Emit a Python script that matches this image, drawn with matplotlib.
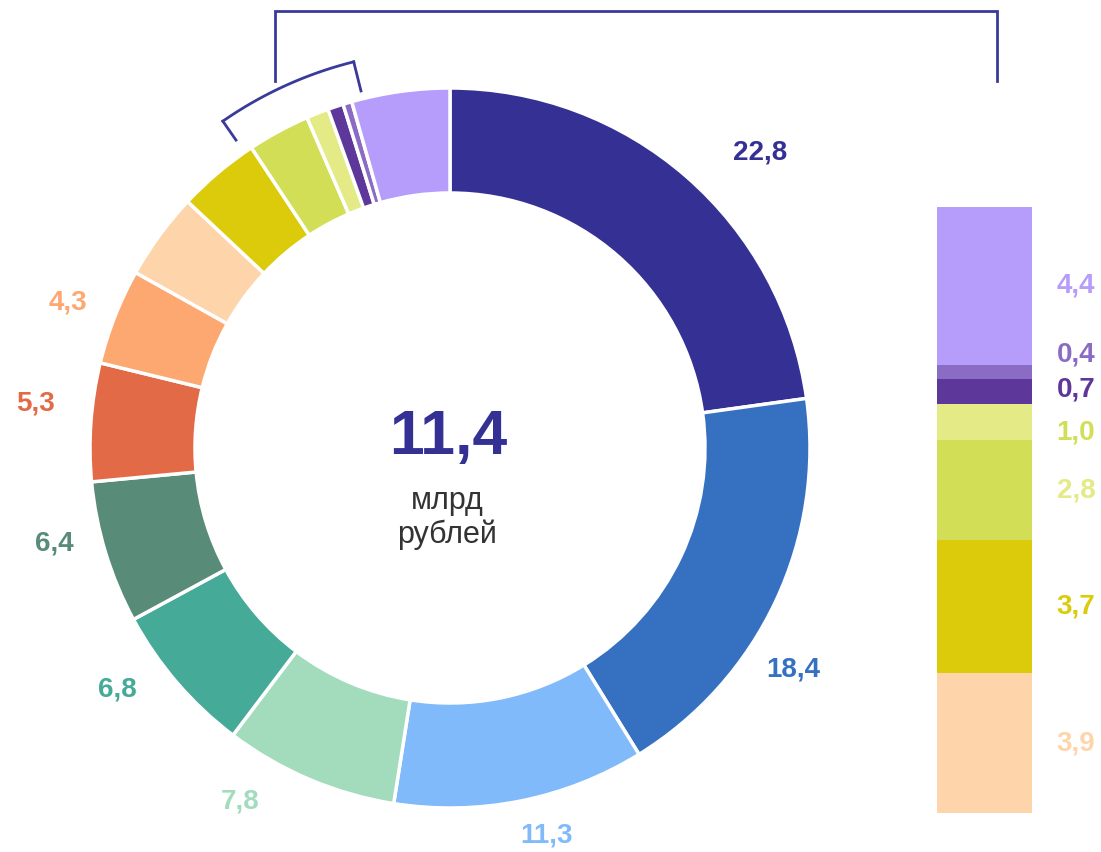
import matplotlib
matplotlib.use("Agg")
import matplotlib.pyplot as plt
import numpy as np

plt.rcParams['font.family'] = ['Liberation Sans', 'DejaVu Sans']

# ---- data ----
donut_values = [22.8, 18.4, 11.3, 7.8, 6.8, 6.4, 5.3, 4.3, 3.9, 3.7, 2.8, 1.0, 0.7, 0.4, 4.4]
donut_labels = ["22,8", "18,4", "11,3", "7,8", "6,8", "6,4", "5,3", "4,3", "", "", "", "", "", "", ""]
donut_colors = ["#353194", "#3671c1", "#80bafa", "#a2dcbd", "#46aa98", "#588c79", "#e36a47",
                "#fea871", "#fed5ab", "#dccb0a", "#d1de56", "#e3ea86", "#5e379b", "#8a6cc4", "#b69dfc"]

bar_values = [3.9, 3.7, 2.8, 1.0, 0.7, 0.4, 4.4]
bar_labels = ["3,9", "3,7", "2,8", "1,0", "0,7", "0,4", "4,4"]
bar_colors = ["#fed5ab", "#dccb0a", "#d1de56", "#e3ea86", "#5e379b", "#8a6cc4", "#b69dfc"]
bar_label_colors = ["#fed5ab", "#dccb0a", "#e3ea86", "#d1de56", "#5e379b", "#8a6cc4", "#b69dfc"]

center_value = "11,4"
center_unit = "млрд\nрублей"

# ---- layout / style ----
W, H = 1101, 852
CX, CY = 450, 852 - 448
R, RING = 360, 105
label_angles = [46.3, 122.9, 166.0, 210.7, 234.0, 256.5, 276.2, 290.9]   # deg clockwise from top
label_radii = [1.19, 1.134, 1.108, 1.143, 1.143, 1.131, 1.157, 1.136]
bar_label_shift = [0, 0, 0, -0.28, 0.07, 0.5, 0]
line_color = "#3a3a9a"
LABEL_FS = 20

fig = plt.figure(figsize=(W / 100, H / 100), dpi=100)
ax = fig.add_axes([0, 0, 1, 1])
ax.set_xlim(0, W)
ax.set_ylim(0, H)
ax.set_aspect('equal')
ax.axis('off')

ax.pie(donut_values, colors=donut_colors, startangle=90, counterclock=False,
       center=(CX, CY), radius=R,
       wedgeprops=dict(width=RING, edgecolor='white', linewidth=2.5))
ax.set_xlim(0, W)
ax.set_ylim(0, H)

for lab, ang, rr, col in zip(donut_labels, label_angles, label_radii, donut_colors):
    if not lab:
        continue
    a = np.deg2rad(ang)
    x = CX + np.sin(a) * R * rr
    y = CY + np.cos(a) * R * rr
    ax.text(x, y, lab, color=col, fontsize=LABEL_FS, fontweight='bold', ha='center', va='center')

ax.text(CX - 2, CY + 11, center_value, color="#353194", fontsize=45, fontweight='bold',
        ha='center', va='center')
ax.text(CX - 3, CY - 70, center_unit, color="#333333", fontsize=22, ha='center', va='center',
        linespacing=1.15)

# bracket over the small slices
a1 = 14.0
a2 = 34.8
angs = np.linspace(a1, a2, 100)
rb = 398
xs = CX - np.sin(np.deg2rad(angs)) * rb
ys = CY + np.cos(np.deg2rad(angs)) * rb
ax.plot(xs, ys, color=line_color, lw=2)
for a, r_end in [(a1, 368), (a2, 375)]:
    ar = np.deg2rad(a)
    ax.plot([CX - np.sin(ar) * rb, CX - np.sin(ar) * r_end],
            [CY + np.cos(ar) * rb, CY + np.cos(ar) * r_end], color=line_color, lw=2)
# connector line to bar
stem_x = 275
ax.plot([stem_x, stem_x, 997, 997], [H - 81, H - 11, H - 11, H - 81], color=line_color, lw=2,
        solid_joinstyle='miter')

# ---- stacked bar ----
bx = fig.add_axes([937 / W, (H - 813) / H, 95 / W, 606 / H])
bottom = 0
for v, c in zip(bar_values, bar_colors):
    bx.bar(0, v, bottom=bottom, width=1.0, color=c, linewidth=0)
    bottom += v
bx.set_xlim(-0.5, 0.5)
bx.set_ylim(0, sum(bar_values))
bx.axis('off')

bottom = 0
for v, lab, col, sh in zip(bar_values, bar_labels, bar_label_colors, bar_label_shift):
    bx.text(0.76, bottom + v / 2 + sh, lab, color=col, fontsize=LABEL_FS, fontweight='bold',
            ha='left', va='center', clip_on=False)
    bottom += v

fig.savefig("out.png", dpi=100)
